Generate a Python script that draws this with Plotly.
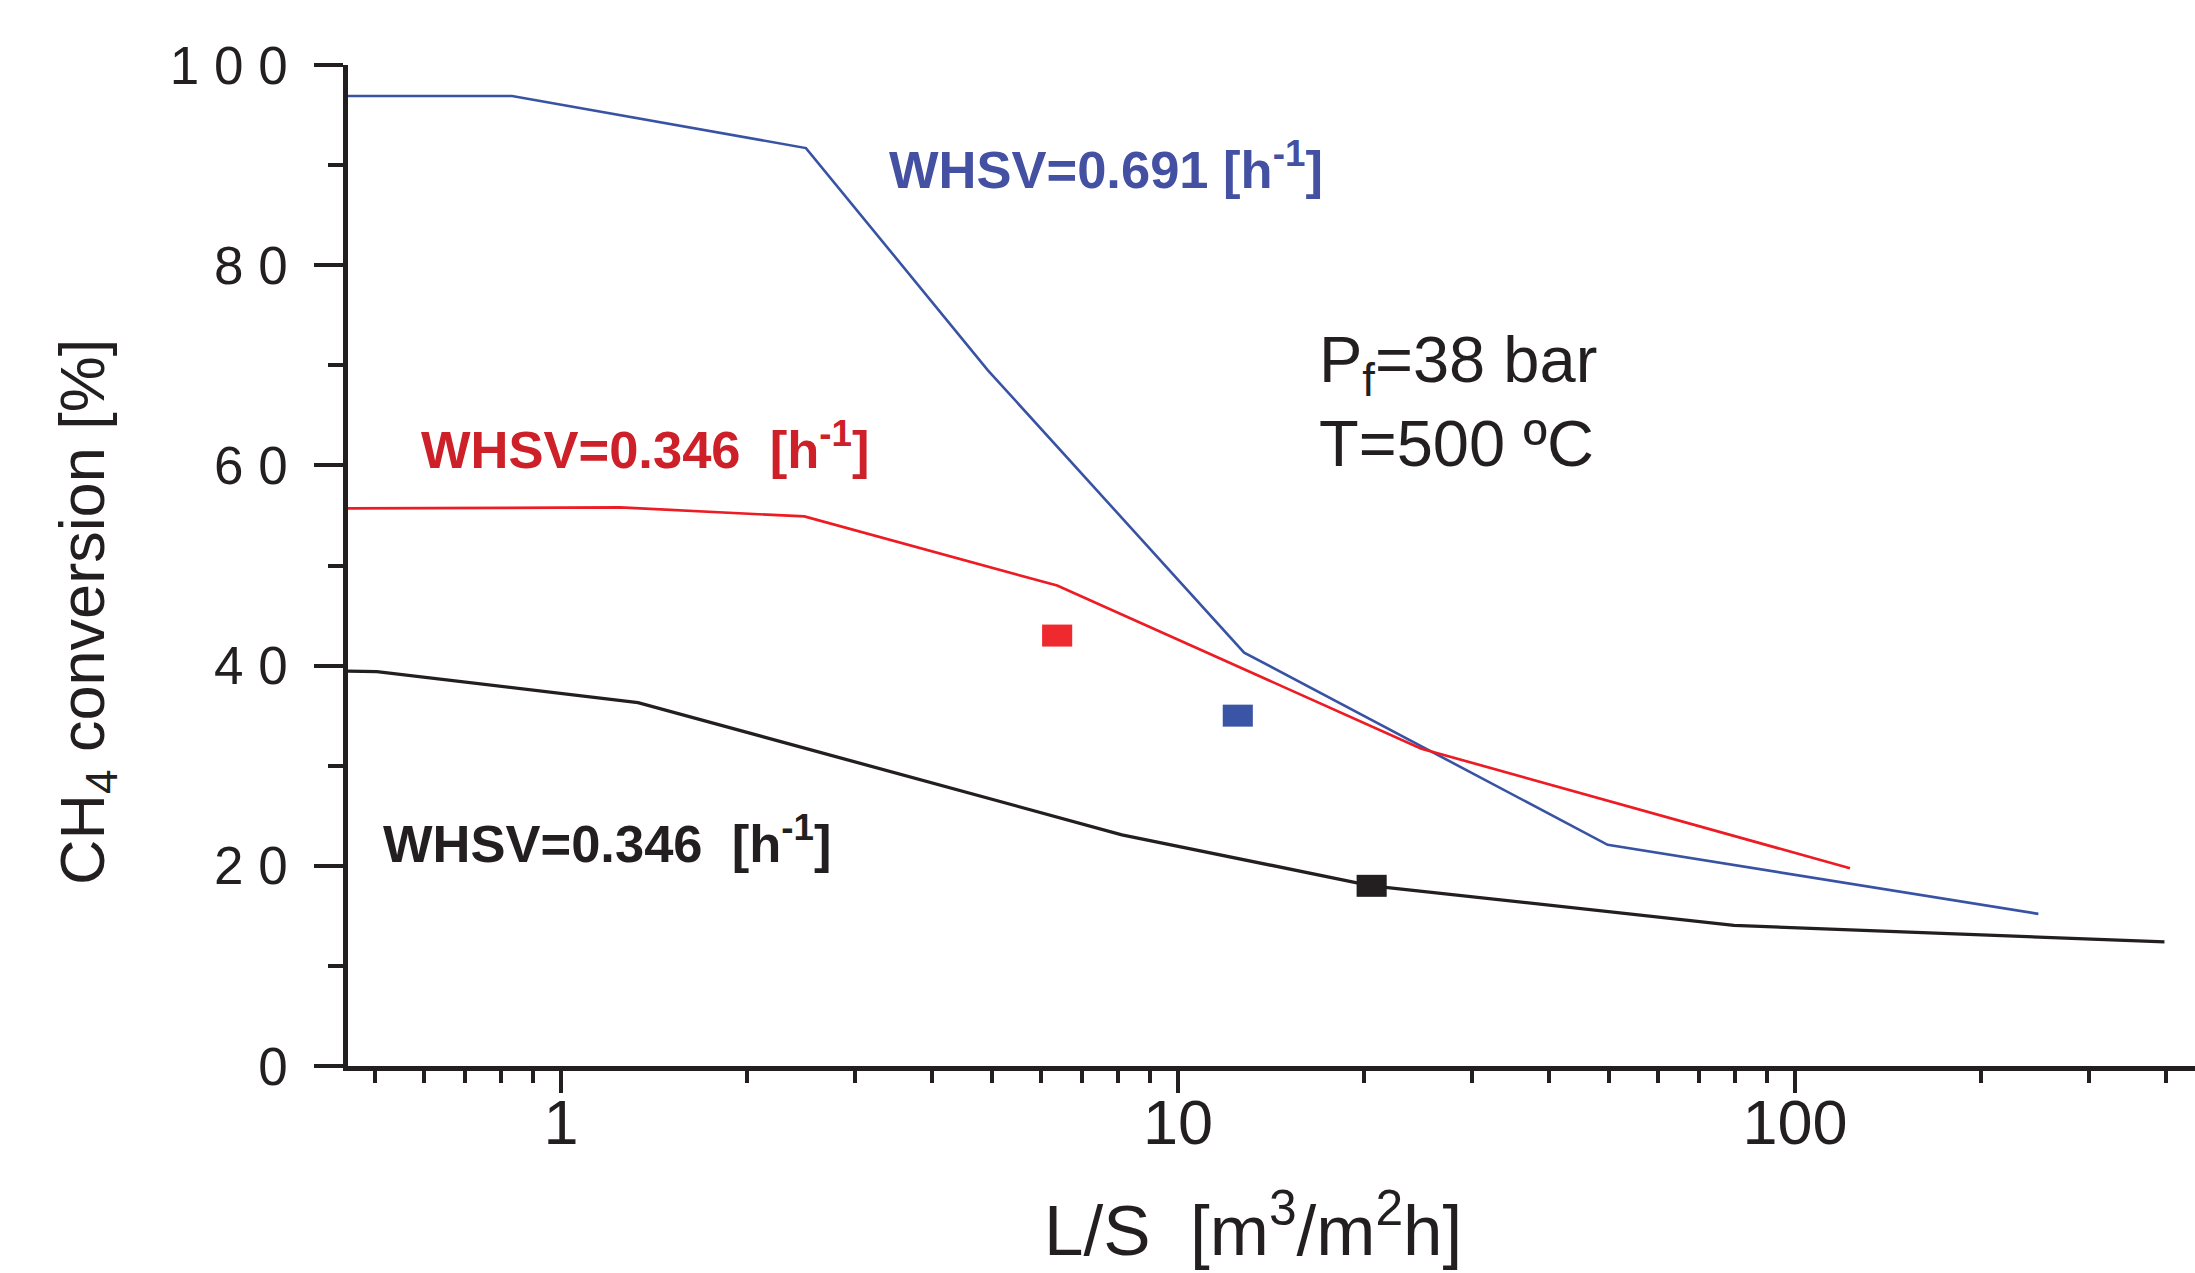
import plotly.graph_objects as go

# ---- data ----
ls_blue = [0.45, 0.833, 2.495, 4.92, 12.8, 49.7, 248]
conv_blue = [96.9, 96.9, 91.7, 69.5, 41.3, 22.1, 15.2]

ls_red = [0.45, 1.246, 2.48, 6.37, 24.8, 122.8]
conv_red = [55.7, 55.8, 54.9, 48.0, 31.7, 19.75]

ls_black = [0.45, 0.503, 1.333, 8.11, 20.6, 79.6, 397]
conv_black = [39.45, 39.4, 36.3, 23.1, 18.0, 14.05, 12.4]

exp_ls = [6.37, 12.5, 20.6]
exp_conv = [43.0, 35.0, 18.0]
exp_colors = ["#ee2a2e", "#3a55a5", "#231f20"]

y_tickvals = [0, 20, 40, 60, 80, 100]
y_ticktext = ["0", "2 0", "4 0", "6 0", "8 0", "1 0 0"]
x_tickvals = [1, 10, 100]
x_ticktext = ["1", "10", "100"]
x_minor = [0.5, 0.6, 0.7, 0.8, 0.9, 2, 3, 4, 5, 6, 7, 8, 9,
           20, 30, 40, 50, 60, 70, 80, 90, 200, 300, 400]

BLUE_LINE = "#3953a4"
BLUE_TEXT = "#4450a2"
RED_LINE = "#ed1c24"
RED_TEXT = "#cd2028"
BLACK = "#231f20"
FONT = "Liberation Sans, Arial, Helvetica, sans-serif"

W, H = 2195, 1273
L, R, T, B = 348, 0, 65, 207

fig = go.Figure()
fig.add_trace(go.Scatter(x=ls_blue, y=conv_blue, mode="lines",
                         line=dict(color=BLUE_LINE, width=2.6), showlegend=False))
fig.add_trace(go.Scatter(x=ls_red, y=conv_red, mode="lines",
                         line=dict(color=RED_LINE, width=2.7), showlegend=False))
fig.add_trace(go.Scatter(x=ls_black, y=conv_black, mode="lines",
                         line=dict(color=BLACK, width=3.3), showlegend=False))
fig.add_trace(go.Scatter(x=exp_ls, y=exp_conv, mode="markers",
                         marker=dict(symbol="line-ew", size=21.5,
                                     line=dict(color=exp_colors, width=22)),
                         showlegend=False, cliponaxis=False))

pw = W - L - R
ph = H - T - B

def px(xp):
    return (xp - L) / pw

def py(yp):
    return (H - B - yp) / ph

BOLD = 52.5
ann = []
ann.append(dict(text="WHSV=0.691 [h<sup>-1</sup>]", x=px(887), y=py(166),
                xanchor="left", yanchor="middle",
                font=dict(family=FONT, size=BOLD, color=BLUE_TEXT, weight="bold")))
ann.append(dict(text="WHSV=0.346  [h<sup>-1</sup>]", x=px(419), y=py(446),
                xanchor="left", yanchor="middle",
                font=dict(family=FONT, size=BOLD, color=RED_TEXT, weight="bold")))
ann.append(dict(text="WHSV=0.346  [h<sup>-1</sup>]", x=px(381), y=py(840),
                xanchor="left", yanchor="middle",
                font=dict(family=FONT, size=BOLD, color=BLACK, weight="bold")))
ann.append(dict(text="P<sub>f</sub>=38 bar", x=px(1317), y=py(364),
                xanchor="left", yanchor="middle",
                font=dict(family=FONT, size=65, color=BLACK)))
ann.append(dict(text="T=500 ºC", x=px(1317), y=py(443),
                xanchor="left", yanchor="middle",
                font=dict(family=FONT, size=65, color=BLACK)))
# axis titles
ann.append(dict(text="CH<sub>4</sub> conversion [%]", x=px(86), y=py(612),
                xanchor="center", yanchor="middle", textangle=-90,
                font=dict(family=FONT, size=63, color=BLACK)))
ann.append(dict(text="L/S  [m<sup>3</sup>/m<sup>2</sup>h]", x=px(1253), y=py(1272),
                xanchor="center", yanchor="bottom",
                font=dict(family=FONT, size=71, color=BLACK)))
for a in ann:
    a.update(xref="paper", yref="paper", showarrow=False)

fig.update_layout(
    width=W, height=H,
    margin=dict(l=L, r=R, t=T, b=B, pad=0),
    paper_bgcolor="white", plot_bgcolor="white",
    annotations=ann,
    xaxis=dict(type="log", range=[-0.3452, 2.6483],
               showgrid=False, zeroline=False,
               showline=True, linecolor=BLACK, linewidth=4.5,
               ticks="outside", ticklen=22, tickwidth=4, tickcolor=BLACK,
               tickvals=x_tickvals, ticktext=x_ticktext,
               tickfont=dict(family=FONT, size=63, color=BLACK),
               ticklabelstandoff=-24,
               minor=dict(tickvals=x_minor, ticks="outside", ticklen=12,
                          tickwidth=4, tickcolor=BLACK, showgrid=False)),
    yaxis=dict(range=[0, 100], showgrid=False, zeroline=False,
               showline=True, linecolor=BLACK, linewidth=4.5,
               ticks="outside", ticklen=29, tickwidth=4, tickcolor=BLACK,
               tickvals=y_tickvals, ticktext=y_ticktext,
               tickfont=dict(family=FONT, size=53, color=BLACK),
               ticklabelstandoff=16,
               minor=dict(tickvals=[10, 30, 50, 70, 90], ticks="outside",
                          ticklen=15, tickwidth=4, tickcolor=BLACK, showgrid=False)),
)

fig.write_html("out.html",
               config={"displayModeBar": False},
               post_script="document.body.style.margin='0';document.body.style.overflow='hidden';")
